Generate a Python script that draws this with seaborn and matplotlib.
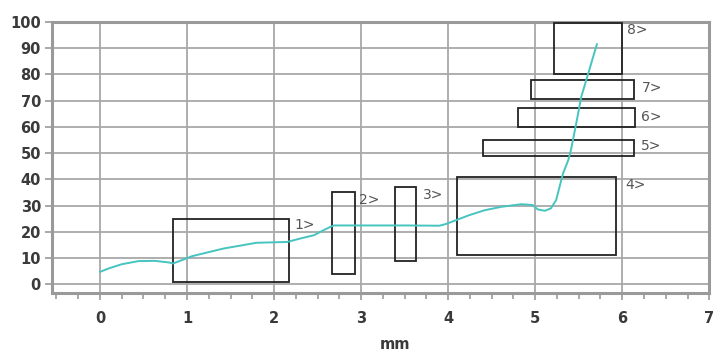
import matplotlib
matplotlib.use("Agg")
import matplotlib.pyplot as plt
from matplotlib.patches import Rectangle
from matplotlib.ticker import MultipleLocator
import pandas as pd
import seaborn as sns

# ---------------------------------------
# Data
# ---------------------------------------

curve_x = [0.0, 0.10, 0.25, 0.44, 0.63, 0.79, 0.84, 0.92, 1.06, 1.42, 1.80, 2.15,
           2.30, 2.46, 2.57, 2.65, 2.69, 3.00, 3.50, 3.90, 3.97, 4.09, 4.24, 4.42,
           4.61, 4.84, 4.97, 5.03, 5.11, 5.18, 5.24, 5.28, 5.32, 5.38, 5.41, 5.47,
           5.53, 5.61, 5.71]
curve_y = [4.7, 6.0, 7.6, 8.8, 8.9, 8.3, 7.9, 8.9, 10.7, 13.6, 15.8, 16.1,
           17.4, 18.7, 20.6, 21.9, 22.4, 22.4, 22.4, 22.3, 22.9, 24.4, 26.3, 28.2,
           29.5, 30.5, 30.2, 28.5, 28.0, 28.9, 32.0, 37.1, 42.2, 47.3, 51.0, 61.0,
           71.5, 80.4, 91.6]

box_labels = ["1>", "2>", "3>", "4>", "5>", "6>", "7>", "8>"]
box_x0 = [0.84, 2.67, 3.39, 4.10, 4.40, 4.80, 4.95, 5.22]
box_x1 = [2.17, 2.93, 3.63, 5.93, 6.13, 6.15, 6.13, 6.00]
box_y0 = [1, 4, 9, 11, 49, 60, 70.5, 80]
box_y1 = [25, 35, 37, 41, 55, 67, 78, 99.5]
label_x = [2.24, 2.98, 3.71, 6.03, 6.21, 6.22, 6.23, 6.06]
label_y = [22.5, 32, 34, 38, 52.7, 63.7, 75, 97]

df = pd.DataFrame({"mm": curve_x, "value": curve_y})

# ---------------------------------------
# Plot
# ---------------------------------------

sns.set_style("white")
fig = plt.figure(figsize=(7.23, 3.54), dpi=100)
ax = fig.add_axes([0.072, 0.172, 0.909, 0.766])

ax.set_xlim(-0.55, 7)
ax.set_ylim(-3.4, 100)
ax.xaxis.set_major_locator(MultipleLocator(1))
ax.xaxis.set_minor_locator(MultipleLocator(0.25))
ax.yaxis.set_major_locator(MultipleLocator(10))
ax.grid(True, which="major", color="#a8a8a8", linewidth=1.3)
ax.set_axisbelow(True)

for s in ax.spines.values():
    s.set_color("#9a9a9a")
    s.set_linewidth(2.2)

for i in range(len(box_labels)):
    ax.add_patch(Rectangle((box_x0[i], box_y0[i]), box_x1[i] - box_x0[i],
                           box_y1[i] - box_y0[i], fill=False,
                           edgecolor="#222222", linewidth=1.3, zorder=3))
    ax.text(label_x[i], label_y[i], box_labels[i], fontsize=10,
            color="#555555", va="center", ha="left", zorder=4)

sns.lineplot(data=df, x="mm", y="value", color="#45c4c0", linewidth=1.4, ax=ax, zorder=5)

ax.tick_params(axis="both", which="major", direction="out", length=5, width=1.2,
               color="#9a9a9a", labelsize=10.5, labelcolor="#3a3a3a")
ax.tick_params(axis="x", which="major", pad=8)
ax.tick_params(axis="y", which="major", pad=3)
ax.tick_params(axis="x", which="minor", direction="out", length=4, width=1.2,
               color="#9a9a9a", bottom=True)
ax.tick_params(left=True, bottom=True)
for lbl in ax.get_xticklabels() + ax.get_yticklabels():
    lbl.set_fontweight("bold")

ax.set_ylabel("")
ax.set_xlabel("mm", fontsize=10.5, fontweight="bold", color="#3a3a3a", va="center")
ax.xaxis.set_label_coords(0.522, -0.19)

fig.savefig("out.png", dpi=100)
